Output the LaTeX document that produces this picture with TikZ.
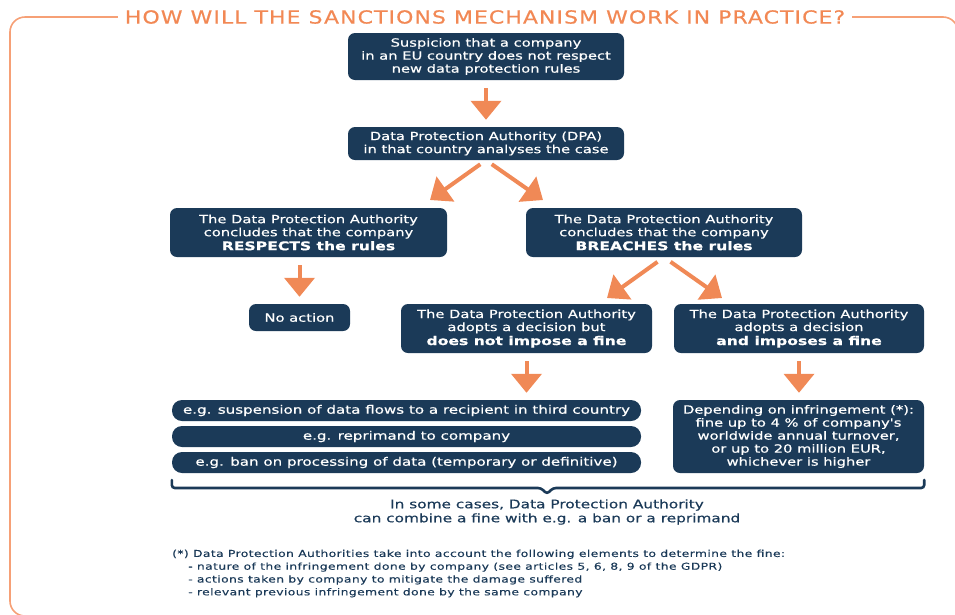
\documentclass[tikz,border=0pt]{standalone}
\usepackage{fontspec}
\setmainfont{DejaVu Sans}[FakeStretch=1.27]
\newfontfamily\boxfont{DejaVu Sans}[FakeStretch=1.3,FakeBold=0.5]
\newfontfamily\notefont{DejaVu Sans}[FakeStretch=1.3,LetterSpace=4,FakeBold=0.3]
\newfontfamily\titlefont{DejaVu Sans}[FakeStretch=1.22,LetterSpace=6,FakeBold=0.4]
\usetikzlibrary{arrows.meta}

\definecolor{navy}{RGB}{27,58,88}
\definecolor{arroworange}{RGB}{240,137,86}
\definecolor{titleorange}{RGB}{242,136,84}
\definecolor{frameorange}{RGB}{246,160,118}

\newcommand{\keyline}[1]{{\fontsize{12}{14}\selectfont\bfseries #1}}

\tikzset{
  box/.style={fill=navy, rounded corners=7pt, text=white, align=center,
    inner sep=0pt, font=\boxfont\fontsize{11.3}{13}\selectfont},
  pill/.style={fill=navy, rounded corners=10pt, text=white, align=center,
    inner sep=0pt, minimum width=469pt, minimum height=21pt,
    font=\boxfont\fontsize{11.6}{13}\selectfont},
  fat/.style={draw=arroworange, line width=4pt,
    -{Triangle[width=30pt,length=19pt]}},
}

\begin{document}
\begin{tikzpicture}[x=1pt,y=-1pt]
  \useasboundingbox (0,0) rectangle (955,614);
  \clip (0,0) rectangle (955,614);

  % outer frame, open towards the right and the bottom
  \draw[frameorange, line width=1.6pt, rounded corners=15pt]
    (958,70) -- (958,17) -- (10,17) -- (10,616) -- (958,616);
  \node[fill=white, inner xsep=7pt, inner ysep=2pt, text=titleorange,
    font=\titlefont\fontsize{18}{18}\selectfont] (title) at (485,17)
    {HOW WILL THE SANCTIONS MECHANISM WORK IN PRACTICE?};

  % flow boxes
  \node[box, minimum width=276pt, minimum height=47pt] (suspicion) at (486,56.5)
    {Suspicion that a company\\in an EU country does not respect\\new data protection rules};
  \node[box, minimum width=276pt, minimum height=33pt] (dpa) at (486,143.5)
    {Data Protection Authority (DPA)\\in that country analyses the case};
  \node[box, minimum width=277pt, minimum height=49pt] (respects) at (308.5,232.5)
    {The Data Protection Authority\\concludes that the company\\[1pt]\keyline{RESPECTS the rules}};
  \node[box, minimum width=276pt, minimum height=49pt] (breaches) at (664,232.5)
    {The Data Protection Authority\\concludes that the company\\[1pt]\keyline{BREACHES the rules}};
  \node[box, minimum width=101pt, minimum height=27pt] (noaction) at (299.5,317.5)
    {No action};
  \node[box, minimum width=251pt, minimum height=49pt] (nofine) at (526.5,328.5)
    {The Data Protection Authority\\adopts a decision but\\[1pt]\keyline{does not impose a fine}};
  \node[box, minimum width=250pt, minimum height=49pt] (fine) at (799,328.5)
    {The Data Protection Authority\\adopts a decision\\[1pt]\keyline{and imposes a fine}};

  % measures without a fine
  \node[pill] (flows) at (406.5,410.5)
    {e.g. suspension of data flows to a recipient in third country};
  \node[pill] (reprimand) at (406.5,436.5)
    {e.g. reprimand to company};
  \node[pill] (ban) at (406.5,462.5)
    {e.g. ban on processing of data (temporary or definitive)};

  % amount of the fine
  \node[box, minimum width=251pt, minimum height=73pt] (amount) at (798.5,436.5)
    {Depending on infringement (*):\\fine up to 4 \% of company's\\worldwide annual turnover,\\or up to 20 million EUR,\\whichever is higher};

  % arrows
  \draw[fat, shorten <=8pt, shorten >=7pt] (suspicion.south) -- (dpa.north);
  \coordinate (toRespects) at (430,200);
  \coordinate (toBreaches) at (543,200);
  \draw[fat, shorten <=7pt] (dpa.south) -- (toRespects);
  \draw[fat, shorten <=7pt] (dpa.south) -- (toBreaches);
  \draw[fat, shorten <=8pt, shorten >=7pt] (respects.south -| noaction.north) -- (noaction.north);
  \coordinate (toNoFine) at (607,298);
  \coordinate (toFine) at (722,298);
  \draw[fat, shorten <=8pt] (breaches.south) -- (toNoFine);
  \draw[fat, shorten <=8pt] (breaches.south) -- (toFine);
  \draw[fat, shorten <=8pt, shorten >=7pt] (nofine.south) -- (nofine.south |- flows.north);
  \draw[fat, shorten <=8pt, shorten >=7pt] (fine.south) -- (fine.south |- amount.north);

  % bracket under all measures
  \draw[navy, line width=2.6pt, line cap=round, rounded corners=3pt]
    (flows.west |- 0,480) -- (flows.west |- 0,488) -- (541,488) -- (547,494)
    -- (553,488) -- (amount.east |- 0,488) -- (amount.east |- 0,480);

  \node[text=navy, align=center, font=\boxfont\fontsize{11.8}{14}\selectfont] (combine) at (547,512)
    {In some cases, Data Protection Authority\\can combine a fine with e.g. a ban or a reprimand};

  % footnote
  \node[text=navy, align=left, anchor=north west, inner sep=0pt,
    font=\notefont\fontsize{9.5}{12.8}\selectfont] (note) at (172,549.5)
    {(*) Data Protection Authorities take into account the following elements to determine the fine:\\
     \hspace*{16pt}- nature of the infringement done by company (see articles 5, 6, 8, 9 of the GDPR)\\
     \hspace*{16pt}- actions taken by company to mitigate the damage suffered\\
     \hspace*{16pt}- relevant previous infringement done by the same company};
\end{tikzpicture}
\end{document}
